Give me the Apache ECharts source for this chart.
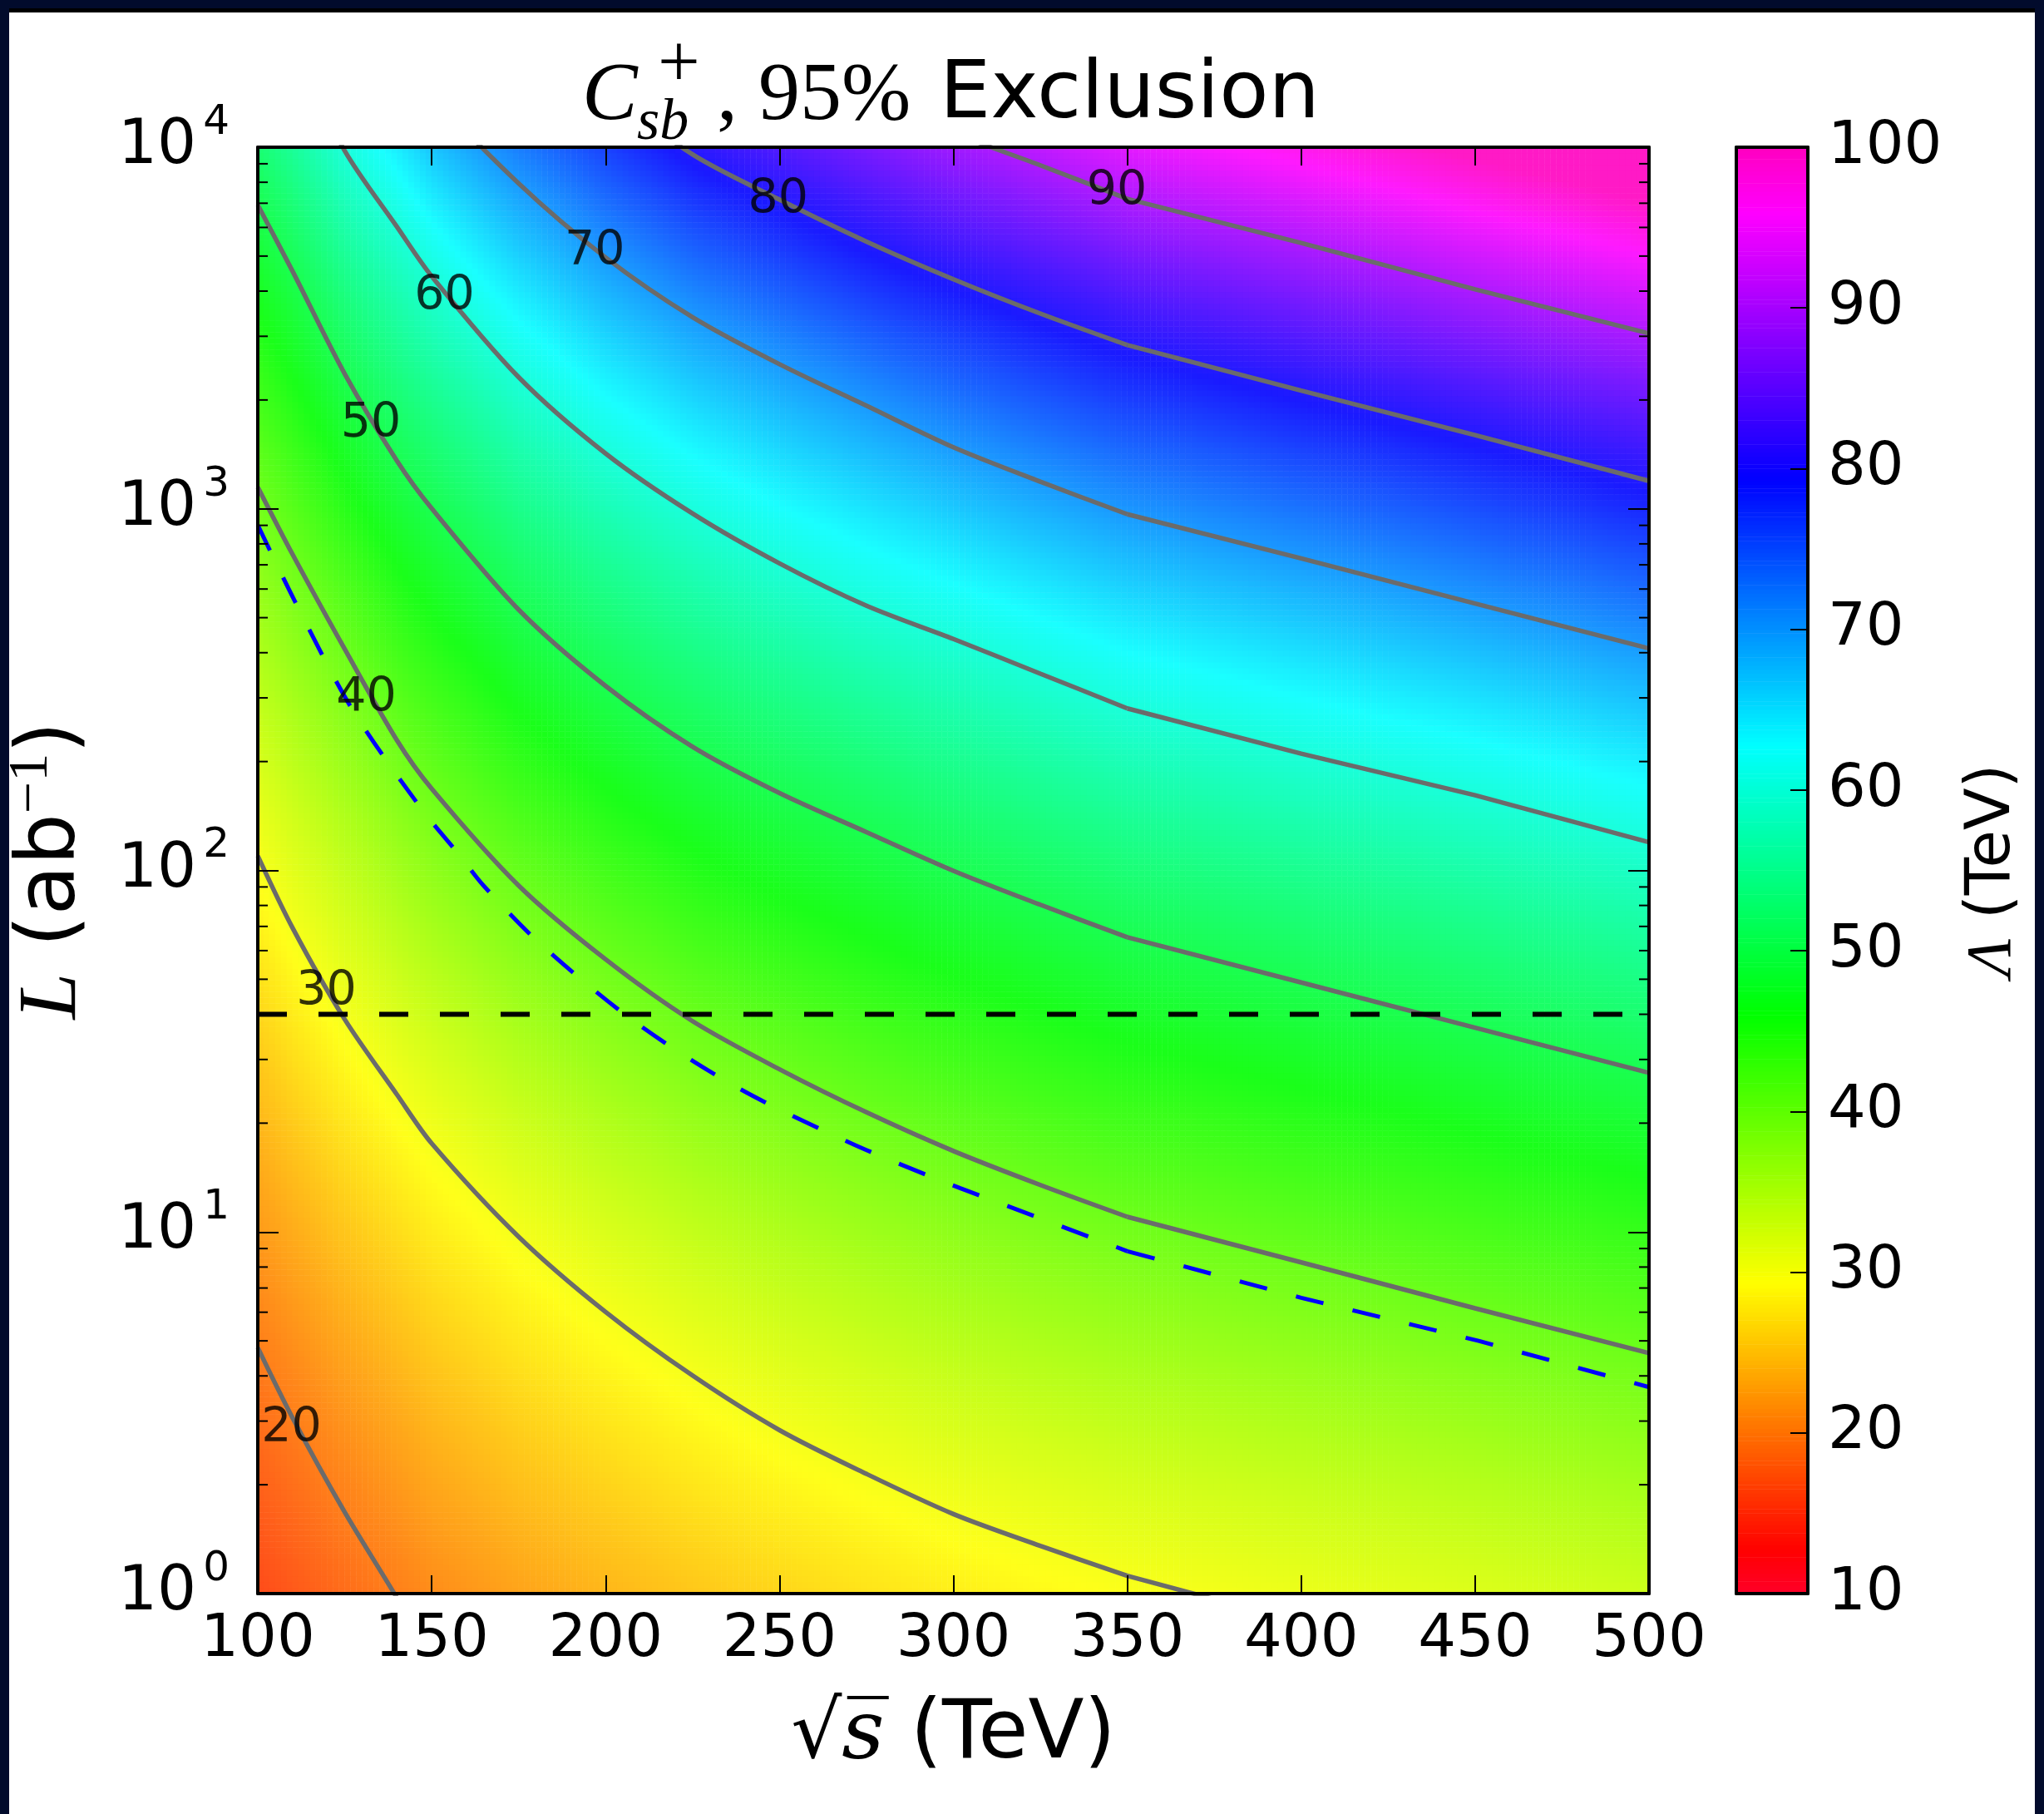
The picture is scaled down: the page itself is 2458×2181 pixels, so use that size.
<!DOCTYPE html>
<html><head><meta charset="utf-8">
<script src="https://cdn.jsdelivr.net/npm/echarts@6/dist/echarts.min.js"></script>
<style>
html,body{margin:0;padding:0;background:#fff;}
#chart{position:absolute;left:0;top:0;width:2458px;height:2181px;background:#fff;}
.fr{position:absolute;background:#020b2c;z-index:5;}
</style></head><body>
<div id="chart"></div>
<div class="fr" style="left:0;top:0;width:2458px;height:10px;"></div>
<div class="fr" style="left:0;top:10px;width:2458px;height:5px;background:#000;"></div>
<div class="fr" style="left:0;top:0;width:11px;height:2181px;"></div>
<div class="fr" style="left:2447px;top:0;width:11px;height:2181px;"></div>
<script>
// ---- data ----
// sqrt(s) sample points (TeV) at which contour positions were read
const S_TEV = [100,110,125,140,150,175,200,225,250,275,300,325,350,400,450,500];
const KINK_INDEX = 12; // sqrt(s) = 350, where the contours bend
const LEVELS = [20,30,40,50,60,70,80,90];
// log10(L / ab^-1) of each Lambda contour at S_TEV (values outside 0..4 are off-plot estimates)
const logL_20 = [0.68,0.486,0.225,-0.012,-0.182,-0.45,-0.654,-0.825,-0.958,-1.077,-1.184,-1.278,-1.366,-1.492,-1.619,-1.743];
const logL_30 = [2.04,1.841,1.588,1.380,1.245,0.987,0.779,0.603,0.452,0.331,0.220,0.132,0.049,-0.08,-0.20,-0.33];
const logL_40 = [3.06,2.874,2.612,2.36,2.226,1.958,1.754,1.583,1.450,1.331,1.224,1.130,1.042,0.916,0.789,0.665];
const logL_50 = [3.84,3.657,3.373,3.133,3.001,2.721,2.510,2.342,2.214,2.106,1.999,1.905,1.815,1.690,1.565,1.440];
const logL_60 = [4.469,4.283,3.99,3.780,3.643,3.364,3.153,2.987,2.849,2.732,2.640,2.544,2.448,2.323,2.208,2.078];
const logL_70 = [4.99,4.818,4.556,4.304,4.15,3.90,3.695,3.53,3.40,3.285,3.17,3.075,2.985,2.863,2.738,2.614];
const logL_80 = [5.47,5.28,5.02,4.77,4.63,4.37,4.16,3.98,3.855,3.739,3.635,3.54,3.453,3.327,3.204,3.077];
const logL_90 = [5.88,5.69,5.43,5.18,5.04,4.78,4.57,4.40,4.27,4.15,4.04,3.95,3.857,3.735,3.607,3.485];
const CONTOURS = [logL_20,logL_30,logL_40,logL_50,logL_60,logL_70,logL_80,logL_90];
// blue dashed curve
const blueS = [100,111,127,147,158,165,182,209,238,270,294,302,350,400,451,500];
const blueLogL = [2.955,2.738,2.448,2.171,2.042,1.957,1.790,1.577,1.399,1.248,1.151,1.121,0.947,0.818,0.699,0.571];
const BLUE_KINK_INDEX = 12;
// black dashed horizontal line
const hLineS = [100,500];
const hLineL = [40,40];
// contour label positions
const labelText = ['20','30','40','50','60','70','80','90'];
const labelS = [109.7,119.7,131.2,132.5,153.7,196.9,249.6,347.0];
const labelLogL = [0.467,1.673,2.487,3.246,3.597,3.722,3.864,3.887];
// minor log ticks
const minorTickValues = [2,3,4,5,6,7,8,9,20,30,40,50,60,70,80,90,200,300,400,500,600,700,800,900,2000,3000,4000,5000,6000,7000,8000,9000];
const CBAR_MIN = 10, CBAR_MAX = 100;

// ---- colormap (gist_rainbow) ----
const GIST_RAINBOW = [[0.000,1,0,0.16],[0.030,1,0,0],[0.215,1,1,0],[0.400,0,1,0],[0.586,0,1,1],[0.770,0,0,1],[0.954,1,0,1],[1.000,1,0,0.75]];
function cmap(t){
  for (let i=0;i<GIST_RAINBOW.length-1;i++){
    const a=GIST_RAINBOW[i], b=GIST_RAINBOW[i+1];
    if (t<=b[0]){ const f=(t-a[0])/(b[0]-a[0]); return [1,2,3].map(k=>a[k]+(b[k]-a[k])*f); }
  }
  return GIST_RAINBOW[GIST_RAINBOW.length-1].slice(1);
}
function hex(rgb){ return '#'+rgb.map(c=>Math.max(0,Math.min(255,Math.round(c))).toString(16).padStart(2,'0')).join(''); }
const NSTOP = 361;
const cbarColors = [], mainColors = [];
for (let i=0;i<NSTOP;i++){
  const c = cmap(i/(NSTOP-1));
  cbarColors.push(hex(c.map(v=>v*255)));
  mainColors.push(hex(c.map(v=>0.9*v*255+0.1*255)));
}

// ---- field from contours ----
function contourAt(k, s){
  const arr = CONTOURS[k];
  for (let i=0;i<S_TEV.length-1;i++){
    if (s<=S_TEV[i+1]){ const f=(s-S_TEV[i])/(S_TEV[i+1]-S_TEV[i]); return arr[i]+(arr[i+1]-arr[i])*f; }
  }
  return arr[arr.length-1];
}
function lambdaAt(s, lg){
  const c = LEVELS.map((_,k)=>contourAt(k,s));
  let k;
  if (lg <= c[0]) k = 0;
  else if (lg >= c[c.length-1]) k = c.length-2;
  else { for (k=0;k<c.length-1;k++) if (lg>=c[k] && lg<=c[k+1]) break; }
  const a=Math.log10(LEVELS[k]), b=Math.log10(LEVELS[k+1]);
  return Math.pow(10, a + (lg-c[k])/(c[k+1]-c[k])*(b-a));
}
const NX = 240, NY = 250;
const xCats = Array.from({length:NX},(_,i)=>i);
const yCats = Array.from({length:NY},(_,j)=>j);
const fieldData = [];
for (let i=0;i<NX;i++){
  const s = 100 + (i+0.5)*400/NX;
  for (let j=0;j<NY;j++){
    const lg = (j+0.5)*4/NY;
    const v = Math.max(CBAR_MIN, Math.min(CBAR_MAX, lambdaAt(s, lg)));
    fieldData.push([i,j,+v.toFixed(3)]);
  }
}
const NCB = 360;
const cbCats = Array.from({length:NCB},(_,j)=>j);
const cbData = cbCats.map(j=>[0,j,CBAR_MIN+(j+0.5)*(CBAR_MAX-CBAR_MIN)/NCB]);

// ---- layout ----
const G = {left:310, top:177, width:1673, height:1739};
const CB = {left:2088, top:177, width:86, height:1739};
const BLACK = '#000';
const GRAY = '#6b6b6b';
const spine = {show:true, lineStyle:{color:BLACK, width:4}};
const FONT = 'DejaVu Sans';

function lineSeries(xs, logs, from, to, style, smooth, z){
  const d = [];
  for (let i=from;i<=to;i++) d.push([xs[i], Math.pow(10, logs[i])]);
  return {type:'line', xAxisIndex:0, yAxisIndex:0, data:d, symbol:'none', showSymbol:false,
    clip:true, silent:true, z:z, smooth:smooth, lineStyle:style};
}
const contourSeries = [];
CONTOURS.forEach(arr=>{
  const st = {color:GRAY, width:5.5};
  contourSeries.push(lineSeries(S_TEV, arr, 0, KINK_INDEX, st, 0.3, 3));
  contourSeries.push(lineSeries(S_TEV, arr, KINK_INDEX, S_TEV.length-1, st, false, 3));
});
const blueStyle = {color:'#0000ff', width:5, type:[34,36]};
const blueSeries = [
  lineSeries(blueS, blueLogL, 0, BLUE_KINK_INDEX, blueStyle, 0.3, 4),
  lineSeries(blueS, blueLogL, BLUE_KINK_INDEX, blueS.length-1, blueStyle, false, 4)
];

const chart = echarts.init(document.getElementById('chart'), null, {renderer:'canvas'});
const gridBase = {containLabel:false, outerBoundsMode:'none'};
const option = {
  animation:false,
  backgroundColor:'#fff',
  grid:[
    Object.assign({left:G.left, top:G.top, width:G.width, height:G.height}, gridBase),
    Object.assign({left:G.left, top:G.top, width:G.width, height:G.height}, gridBase),
    Object.assign({left:CB.left, top:CB.top, width:CB.width, height:CB.height}, gridBase)
  ],
  xAxis:[
    {gridIndex:0, type:'value', min:100, max:500, interval:50, position:'bottom', z:10,
     axisLine:spine, axisTick:{show:true, inside:true, length:22, lineStyle:{color:BLACK, width:2}},
     axisLabel:{fontSize:72, color:BLACK, fontFamily:FONT, margin:20},
     splitLine:{show:false},
     name:'{r|√}{s|s\u0305}{t| (TeV)}', nameLocation:'middle', nameGap:122,
     nameTextStyle:{rich:{
       r:{fontSize:96, fontFamily:'DejaVu Sans', color:BLACK},
       s:{fontSize:100, fontFamily:'DejaVu Serif', fontStyle:'italic', color:BLACK},
       t:{fontSize:98, fontFamily:FONT, color:BLACK}}}},
    {gridIndex:0, type:'value', min:100, max:500, interval:50, position:'top', z:10,
     axisLine:spine, axisTick:{show:true, inside:true, length:22, lineStyle:{color:BLACK, width:2}},
     axisLabel:{show:false}, splitLine:{show:false}},
    {gridIndex:1, type:'category', data:xCats, show:false},
    {gridIndex:2, type:'category', data:['c'], position:'bottom', z:10, axisLine:spine, axisTick:{show:false}, axisLabel:{show:false}},
    {gridIndex:2, type:'category', data:['c'], position:'top', z:10, axisLine:spine, axisTick:{show:false}, axisLabel:{show:false}}
  ],
  yAxis:[
    {gridIndex:0, type:'log', logBase:10, min:1, max:10000, position:'left', z:10,
     axisLine:spine, axisTick:{show:true, inside:true, length:25, lineStyle:{color:BLACK, width:2}},
     splitLine:{show:false}, minorTick:{show:false},
     axisLabel:{margin:34, formatter:v=>'{b|10}{e|'+Math.round(Math.log10(v))+'}',
       rich:{b:{fontSize:74, fontFamily:FONT, color:BLACK},
             e:{fontSize:50, fontFamily:FONT, color:BLACK, padding:[0,0,58,8]}}},
     name:'{L|L}{t| (ab}{e|−1}{t|)}', nameLocation:'middle', nameRotate:90, nameGap:186,
     nameTextStyle:{rich:{
       L:{fontSize:100, fontFamily:'Liberation Serif', fontStyle:'italic', color:BLACK},
       t:{fontSize:98, fontFamily:FONT, color:BLACK},
       e:{fontSize:68, fontFamily:'Liberation Serif', color:BLACK, padding:[0,0,52,0]}}}},
    {gridIndex:0, type:'log', logBase:10, min:1, max:10000, position:'right', z:10,
     axisLine:spine, axisTick:{show:true, inside:true, length:25, lineStyle:{color:BLACK, width:2}},
     splitLine:{show:false}, axisLabel:{show:false}},
    {gridIndex:1, type:'category', data:yCats, show:false},
    {gridIndex:2, type:'category', data:cbCats, position:'left', z:10, axisLine:spine, axisTick:{show:false}, axisLabel:{show:false}},
    {gridIndex:2, type:'value', min:CBAR_MIN, max:CBAR_MAX, interval:10, position:'right', z:10,
     axisLine:spine, axisTick:{show:true, inside:true, length:21, lineStyle:{color:BLACK, width:2}},
     splitLine:{show:false}, axisLabel:{fontSize:72, fontFamily:FONT, color:BLACK, margin:24},
     name:'{l|Λ}{t| (TeV)}', nameLocation:'middle', nameRotate:90, nameGap:185,
     nameTextStyle:{rich:{
       l:{fontSize:76, fontFamily:'Liberation Serif', fontStyle:'italic', color:BLACK},
       t:{fontSize:74, fontFamily:FONT, color:BLACK}}}}
  ],
  visualMap:[
    {type:'continuous', show:false, min:CBAR_MIN, max:CBAR_MAX, dimension:2, seriesIndex:0, inRange:{color:mainColors}},
    {type:'continuous', show:false, min:CBAR_MIN, max:CBAR_MAX, dimension:2, seriesIndex:1, inRange:{color:cbarColors}}
  ],
  graphic:[
    {type:'text', x:700, y:117, style:{text:'C', font:'italic 100px "Liberation Serif"', fill:BLACK, align:'left', verticalAlign:'middle'}},
    {type:'text', x:766, y:149, style:{text:'sb', font:'italic 70px "Liberation Serif"', fill:BLACK, align:'left', verticalAlign:'middle'}},
    {type:'text', x:791, y:80, style:{text:'+', font:'90px "Liberation Serif"', fill:BLACK, align:'left', verticalAlign:'middle'}},
    {type:'text', x:862, y:117, style:{text:', 95%', font:'100px "Liberation Serif"', fill:BLACK, align:'left', verticalAlign:'middle'}},
    {type:'text', x:1130, y:116, style:{text:'Exclusion', font:'97px "DejaVu Sans"', fill:BLACK, align:'left', verticalAlign:'middle'}}
  ],
  series:[
    {type:'heatmap', xAxisIndex:2, yAxisIndex:2, data:fieldData, progressive:0, silent:true, z:1, emphasis:{disabled:true}},
    {type:'heatmap', xAxisIndex:3, yAxisIndex:3, data:cbData, progressive:0, silent:true, z:1, emphasis:{disabled:true}},
    ...contourSeries,
    ...blueSeries,
    {type:'line', xAxisIndex:0, yAxisIndex:0,
     data: hLineS.map((s,i)=>[s, hLineL[i]]),
     symbol:'none', clip:true, silent:true, z:4,
     lineStyle:{color:BLACK, width:6, type:[35,38]}},
    {type:'scatter', xAxisIndex:0, yAxisIndex:0, symbolSize:0, silent:true, z:5,
     data: labelS.map((s,i)=>[s, Math.pow(10, labelLogL[i]), labelText[i]]),
     label:{show:true, position:'inside', offset:[0,5], formatter:p=>p.data[2], fontSize:57, fontFamily:FONT, color:BLACK}},
    {type:'custom', xAxisIndex:0, yAxisIndex:0, silent:true, z:11, clip:false,
     data: minorTickValues.map(v=>[100, v]),
     renderItem:(params, api)=>{
       const v = api.value(1);
       const pL = api.coord([100, v]);
       const pR = api.coord([500, v]);
       return {type:'group', children:[
         {type:'line', shape:{x1:pL[0], y1:pL[1], x2:pL[0]+12, y2:pL[1]}, style:{stroke:BLACK, lineWidth:2}},
         {type:'line', shape:{x1:pR[0], y1:pR[1], x2:pR[0]-12, y2:pR[1]}, style:{stroke:BLACK, lineWidth:2}}
       ]};
     }}
  ]
};
chart.setOption(option);
</script>
</body></html>
